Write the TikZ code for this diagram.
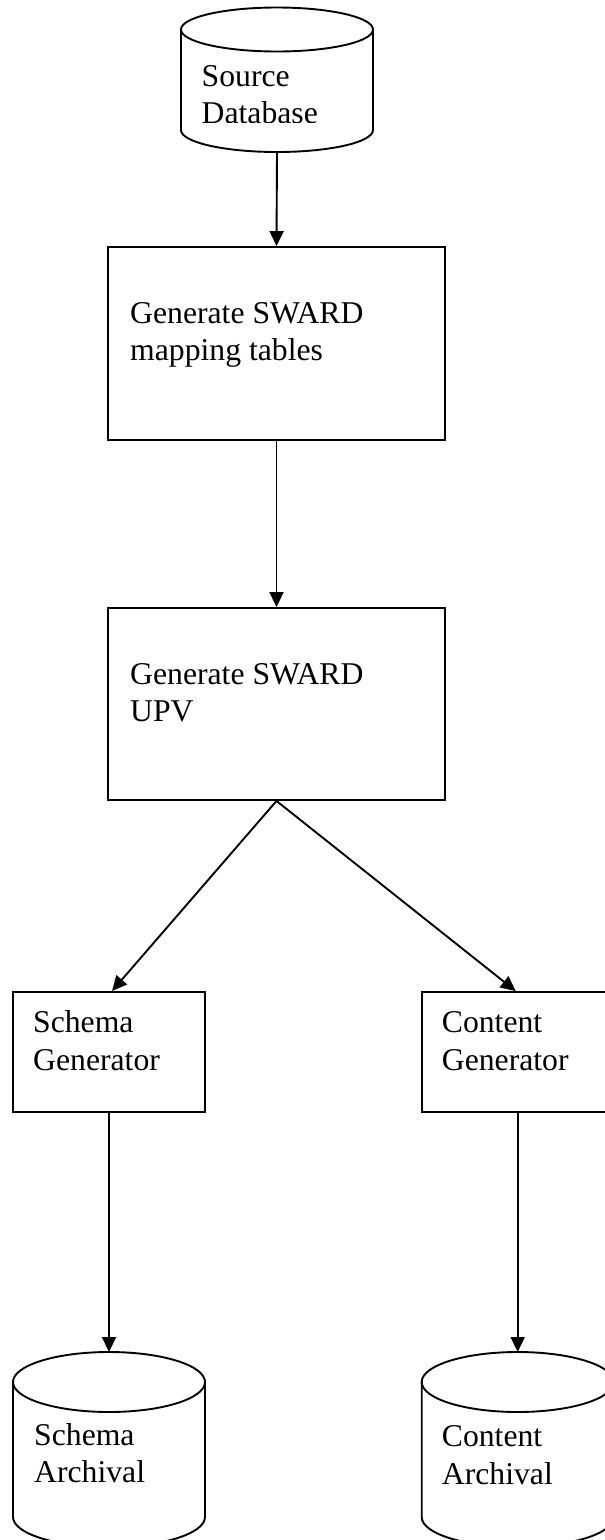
\documentclass[tikz,border=0pt]{standalone}
\usepackage{fontspec}
\setmainfont{Liberation Serif}
\usetikzlibrary{arrows.meta}
\newcommand\twolines[2]{\vtop{\baselineskip=37.5pt\hbox{#1}\hbox{#2}}}
\tikzset{
  ln/.style={line width=1.9pt, draw=black},
  arr/.style={ln, -{Triangle[width=14pt,length=15pt]}},
  boxnode/.style={ln, rectangle, inner sep=0pt},
  txt/.style={inner sep=0pt, anchor=base west, font=\fontsize{31.7pt}{37.5pt}\selectfont},
}
\begin{document}
\begin{tikzpicture}[x=1pt,y=1pt]
\useasboundingbox (0,0) rectangle (605,-1540);
\clip (0,0) rectangle (605,-1540);
\fill[white] (0,0) rectangle (605,-1540);

% Source Database cylinder
\draw[ln] (181,-29.5) -- (181,-130) arc[start angle=180,end angle=360,x radius=96pt,y radius=22pt] -- (373,-29.5);
\draw[ln] (277,-29.5) ellipse[x radius=96pt,y radius=22pt];
\coordinate (srcb) at (277,-152);
\begin{scope}
\clip (150,0) rectangle (400,-122.6);
\node[txt] (srctxt) at (201.5,-86) {\twolines{Source}{Database}};
\end{scope}

% Boxes
\node[boxnode, minimum width=337pt, minimum height=193pt] (map) at (276.5,-343.5) {};
\node[txt] (maptxt) at (130,-323.3) {\twolines{Generate SWARD}{mapping tables}};

\node[boxnode, minimum width=337pt, minimum height=192pt] (upv) at (276.5,-704) {};
\node[txt] (upvtxt) at (130,-684) {\twolines{Generate SWARD}{UPV}};

\node[boxnode, minimum width=192pt, minimum height=120pt] (sg) at (109,-1052) {};
\node[txt] (sgtxt) at (33,-1032.5) {\twolines{Schema}{Generator}};

\node[boxnode, minimum width=192pt, minimum height=120pt] (cg) at (517.7,-1052) {};
\node[txt] (cgtxt) at (441.7,-1032.5) {\twolines{Content}{Generator}};

% Archival cylinders
\draw[ln] (13,-1382) -- (13,-1517) arc[start angle=180,end angle=360,x radius=96pt,y radius=30pt] -- (205,-1382);
\draw[ln] (109,-1382) ellipse[x radius=96pt,y radius=30pt];
\coordinate (sat) at (109,-1352);
\node[txt] (satxt) at (34,-1445) {\twolines{Schema}{Archival}};

\draw[ln] (421.7,-1382) -- (421.7,-1517) arc[start angle=180,end angle=360,x radius=96pt,y radius=30pt] -- (613.7,-1382);
\draw[ln] (517.7,-1382) ellipse[x radius=96pt,y radius=30pt];
\coordinate (cat) at (517.7,-1352);
\node[txt] (catxt) at (441.7,-1446.5) {\twolines{Content}{Archival}};

% Connectors
\draw[arr] (srcb) -- (map.north);
\draw[arr] (map.south) -- (upv.north);
\draw[arr] (upv.south) -- ([xshift=3pt]sg.north);
\draw[arr] (upv.south) -- ([xshift=-2pt]cg.north);
\draw[arr] (sg.south) -- (sat);
\draw[arr] (cg.south) -- (cat);
\end{tikzpicture}
\end{document}
